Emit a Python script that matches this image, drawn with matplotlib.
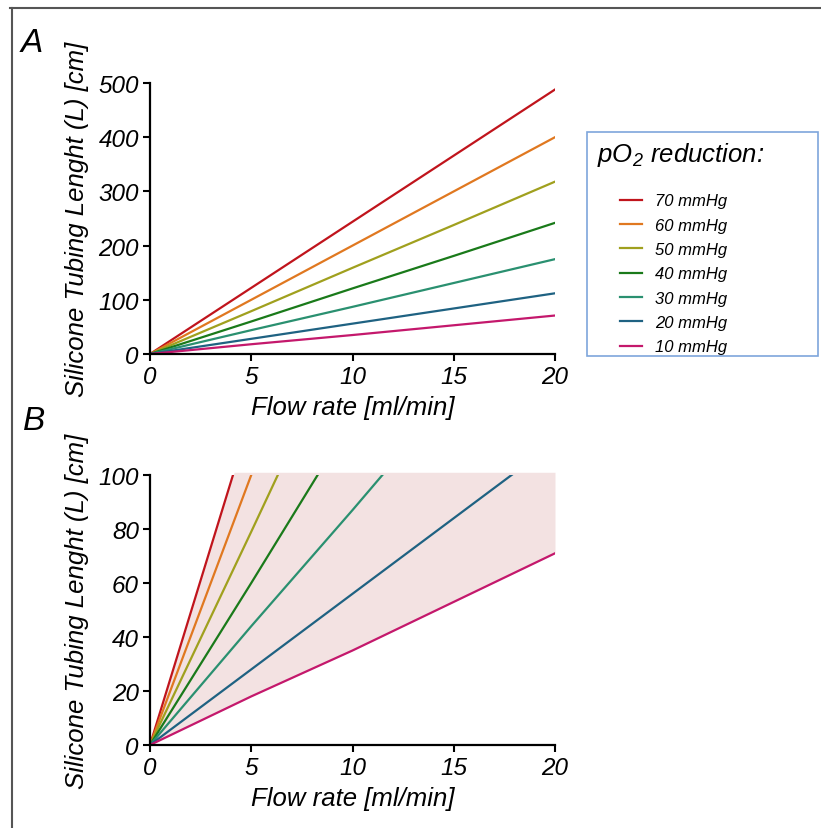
import numpy as np
import matplotlib
matplotlib.use("Agg")
import matplotlib.pyplot as plt
from matplotlib.lines import Line2D
from matplotlib.patches import Rectangle

plt.rcParams['font.family'] = ['Liberation Sans', 'DejaVu Sans']
plt.rcParams['font.style'] = 'italic'
plt.rcParams['mathtext.fontset'] = 'custom'
plt.rcParams['mathtext.rm'] = 'Liberation Sans:italic'
plt.rcParams['mathtext.it'] = 'Liberation Sans:italic'

# flow rate [ml/min] and tubing length [cm]
flow = [0, 5, 10, 15, 20]
labels = ["70 mmHg", "60 mmHg", "50 mmHg", "40 mmHg", "30 mmHg", "20 mmHg", "10 mmHg"]
len_70 = [0, 122, 244, 366, 488]
len_60 = [0, 100, 200, 300, 400]
len_50 = [0, 79, 159, 238, 318]
len_40 = [0, 60, 121, 181, 242]
len_30 = [0, 44, 87, 131, 175]
len_20 = [0, 28, 56, 84, 112]
len_10 = [0, 18, 35, 53, 71]
lengths = [len_70, len_60, len_50, len_40, len_30, len_20, len_10]
colors = ["#c0141c", "#e07820", "#a0a01e", "#1a7a1a", "#2a9070", "#1f6282", "#c4186c"]
fill_cap = 101  # top of shaded zone in panel B

W, H = 821, 829
fig = plt.figure(figsize=(W / 100, H / 100), dpi=100)


def px_axes(x0, x1, y_top, y_bot):
    return fig.add_axes([x0 / W, 1 - y_bot / H, (x1 - x0) / W, (y_bot - y_top) / H])


def style(ax, ymax, ystep):
    ax.set_xlim(0, 20)
    ax.set_ylim(0, ymax)
    ax.set_xticks([0, 5, 10, 15, 20])
    ax.set_yticks(np.arange(0, ymax + 1, ystep))
    for s in ("top", "right"):
        ax.spines[s].set_visible(False)
    for s in ("left", "bottom"):
        ax.spines[s].set_linewidth(1.6)
    ax.tick_params(direction="out", length=5, width=1.5, labelsize=17.5, pad=3)
    ax.set_xlabel("Flow rate [ml/min]", fontsize=18.5, labelpad=5)
    ax.set_ylabel("Silicone Tubing Lenght (L) [cm]", fontsize=18.5, labelpad=7)


# Panel A
ax_a = px_axes(150, 555, 84, 355)
for lab, ys, c in zip(labels, lengths, colors):
    ax_a.plot(flow, ys, color=c, lw=1.6, label=lab)
style(ax_a, 500, 100)

# Panel B
ax_b = px_axes(150, 555, 476, 746)
for ys, c in zip(lengths, colors):
    ax_b.plot(flow, ys, color=c, lw=1.6)
xg = np.linspace(0, 20, 400)
upper = np.minimum(np.interp(xg, flow, len_70), fill_cap)
lower = np.interp(xg, flow, len_10)
ax_b.fill_between(xg, lower, upper, color=(175 / 255, 62 / 255, 62 / 255), alpha=0.15,
                  lw=0, clip_on=False)
style(ax_b, 100, 20)

fig.text(21 / W, 1 - 43 / H, "A", fontsize=24, va="center", ha="left")
fig.text(23 / W, 1 - 422 / H, "B", fontsize=24, va="center", ha="left")

# legend box
fig.patches.append(Rectangle((587 / W, 1 - 357 / H), 231 / W, 224 / H, transform=fig.transFigure,
                             fill=False, edgecolor="#7ea6dc", lw=1.2))
fig.text(597 / W, 1 - 155 / H, r"p$\mathrm{O_2}$ reduction:", fontsize=18.5, va="center", ha="left")
handles, labs = ax_a.get_legend_handles_labels()
fig.legend(handles, labs, loc="upper left", bbox_to_anchor=(612 / W, 1 - 186 / H),
           frameon=False, fontsize=12, borderpad=0, handlelength=1.3, handletextpad=0.8,
           labelspacing=0.56)

# figure frame (top and left edges only)
fig.add_artist(Line2D([10 / W, 1], [1 - 8.5 / H] * 2, color="#555555", lw=1.5, transform=fig.transFigure))
fig.add_artist(Line2D([11.5 / W] * 2, [0, 1 - 8.5 / H], color="#555555", lw=1.5, transform=fig.transFigure))

fig.savefig("out.png", dpi=100)
